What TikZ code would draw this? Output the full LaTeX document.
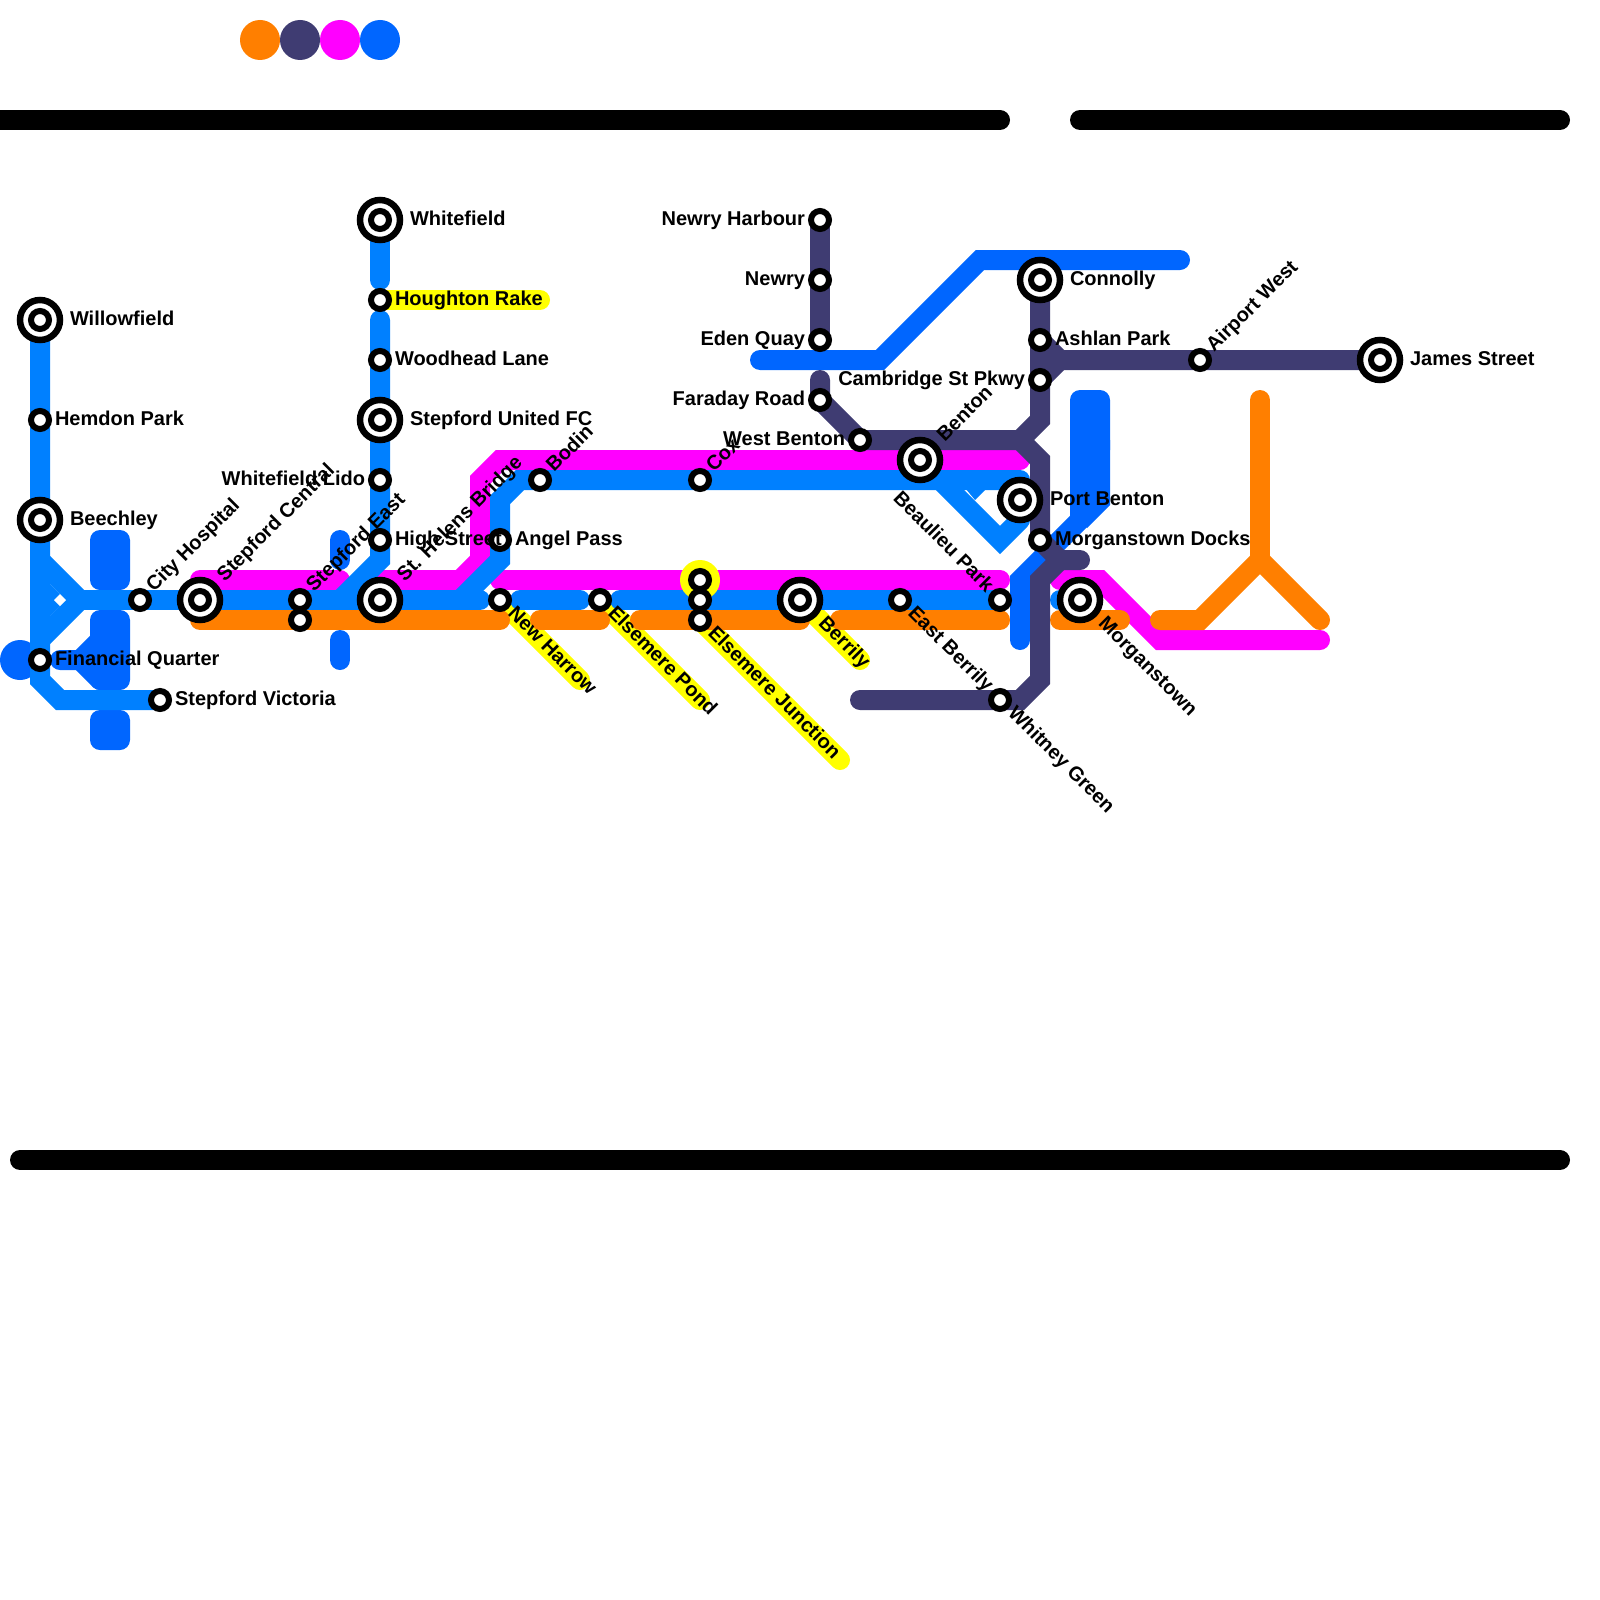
\documentclass[tikz,border=0pt]{standalone}
\usepackage{fontspec}
\setmainfont{Liberation Sans}
\definecolor{cor}{HTML}{FF7F00}
\definecolor{cnv}{HTML}{3F3C72}
\definecolor{cmg}{HTML}{FF00FF}
\definecolor{cdb}{HTML}{0066FF}
\definecolor{clb}{HTML}{0080FF}
\definecolor{cyl}{HTML}{FFFF00}
\tikzset{
  track/.style={line width=20pt,line cap=round,line join=miter,miter limit=10},
  ringst/.style={draw=black,fill=white,line width=6pt},
  lab/.style={inner sep=0pt,outer sep=0pt,font=\fontsize{20pt}{24pt}\selectfont\bfseries,text=black},
}
\newcommand\smallst[2]{\coordinate (#1) at (#2); \path[ringst] (#1) circle (9);}
\newcommand\bigstn[2]{\coordinate (#1) at (#2); \path[ringst,line width=6.5pt] (#1) circle (20); \path[ringst] (#1) circle (9);}
\newcommand\labE[3]{\node[lab,anchor=base west] (#1-l) at ([shift={(#2,5)}]#1) {#3};}
\newcommand\labW[3]{\node[lab,anchor=base east] (#1-l) at ([shift={(-#2,5)}]#1) {#3};}
\newcommand\labNE[3]{\node[lab,anchor=base west,rotate=45] (#1-l) at ([shift={({0.7071*(#2+5)},{-0.7071*(#2-5)})}]#1) {#3};}
\newcommand\labSE[3]{\node[lab,anchor=base west,rotate=-45] (#1-l) at ([shift={({0.7071*(#2-5)},{0.7071*(#2+5)})}]#1) {#3};}
\newcommand\labNW[3]{\node[lab,anchor=base east,rotate=-45] (#1-l) at ([shift={({-0.7071*(#2+5)},{-0.7071*(#2-5)})}]#1) {#3};}
\begin{document}
\begin{tikzpicture}[x=1pt,y=-1pt]
\clip (0,0) rectangle (1600,1600);
% legend
\fill[cor] (260,40) circle (20);
\fill[cnv] (300,40) circle (20);
\fill[cmg] (340,40) circle (20);
\fill[cdb] (380,40) circle (20);
% black bars
\draw[track,black] (-20,120) -- (1000,120);
\draw[track,black] (1080,120) -- (1560,120);
\draw[track,black] (20,1160) -- (1560,1160);
% yellow highlights
\draw[track,cyl] (380,300) -- (540,300);
\draw[track,cyl] (500,600) -- (580,680);
\draw[track,cyl] (600,600) -- (700,700);
\draw[track,cyl] (700,620) -- (840,760);
\draw[track,cyl] (800,600) -- (860,660);
% dark blue line
\fill[cdb] (20,660) circle (20);
\fill[cdb,rounded corners=10pt] (90,530) rectangle (130,590);
\fill[cdb,rounded corners=10pt] (90,610) rectangle (130,690);
\fill[cdb,rounded corners=10pt] (90,710) rectangle (130,750);
\draw[track,cdb] (60,660) -- (80,660) -- (100,640);
\draw[track,cdb] (80,660) -- (100,680);
\draw[track,cdb] (340,540) -- (340,560);
\draw[track,cdb] (340,640) -- (340,660);
\draw[track,cdb] (760,360) -- (880,360) -- (980,260) -- (1180,260);
\fill[cdb,rounded corners=10pt] (1070,390) rectangle (1110,460);
\fill[cdb] (1070,440) -- (1110,440) -- (1110,505) -- (1087,528) -- (1073,514) -- (1070,517) -- cycle;
\draw[track,cdb] (1020,640) -- (1020,580) -- (1080,520);
% magenta line
\draw[track,cmg] (200,580) -- (340,580);
\draw[track,cmg] (380,580) -- (460,580) -- (480,560) -- (480,480) -- (500,460) -- (1020,460);
\draw[track,cmg] (500,580) -- (1000,580);
\draw[track,cmg] (1060,580) -- (1100,580) -- (1160,640) -- (1320,640);
% light blue line
\draw[track,clb] (40,320) -- (40,680) -- (60,700) -- (160,700);
\fill[clb] (50,584) -- (66,600) -- (50,616) -- cycle;
\draw[track,clb] (40,560) -- (80,600) -- (40,640);
\fill[white] (60,594) -- (66,600) -- (60,606) -- (54,600) -- cycle;
\draw[track,clb] (80,600) -- (480,600);
\draw[track,clb] (380,220) -- (380,280);
\draw[track,clb] (380,320) -- (380,560) -- (340,600);
\draw[track,clb] (460,600) -- (500,560) -- (500,500) -- (520,480) -- (1020,480);
\draw[track,clb] (940,480) -- (1000,540) -- (1020,520);
\fill[clb] (965,488) -- (987,488) -- (975,500) -- cycle;
\draw[track,clb] (520,600) -- (580,600);
\draw[track,clb] (620,600) -- (1000,600);
\draw[track,clb] (1060,600) -- (1075,600);
% orange line
\draw[track,cor] (200,620) -- (500,620);
\draw[track,cor] (540,620) -- (600,620);
\draw[track,cor] (640,620) -- (800,620);
\draw[track,cor] (840,620) -- (1000,620);
\draw[track,cor] (1060,620) -- (1120,620);
\draw[track,cor] (1160,620) -- (1200,620) -- (1260,560) -- (1320,620);
\draw[track,cor] (1260,400) -- (1260,560);
% navy line
\draw[track,cnv] (820,220) -- (820,340);
\draw[track,cnv] (820,380) -- (820,400) -- (860,440) -- (1020,440) -- (1040,420) -- (1040,280);
\draw[track,cnv] (1020,440) -- (1040,460) -- (1040,540) -- (1060,560) -- (1080,560);
\draw[track,cnv] (1060,560) -- (1040,580) -- (1040,680) -- (1020,700) -- (860,700);
\draw[track,cnv] (1040,340) -- (1060,360) -- (1380,360);
\draw[track,cnv] (1060,360) -- (1040,380);
% yellow ring
\fill[cyl] (700,580) circle (20);
% stations
\bigstn{willowfield}{40,320}
\smallst{hemdon}{40,420}
\bigstn{beechley}{40,520}
\smallst{financial}{40,660}
\smallst{victoria}{160,700}
\smallst{cityh}{140,600}
\bigstn{stepcentral}{200,600}
\smallst{stepeast}{300,600}
\smallst{stepeastb}{300,620}
\bigstn{whitefield}{380,220}
\smallst{houghton}{380,300}
\smallst{woodhead}{380,360}
\bigstn{united}{380,420}
\smallst{lido}{380,480}
\smallst{highst}{380,540}
\bigstn{sthelens}{380,600}
\smallst{angel}{500,540}
\smallst{newharrow}{500,600}
\smallst{bodin}{540,480}
\smallst{pond}{600,600}
\smallst{cox}{700,480}
\smallst{elsa}{700,580}
\smallst{elsb}{700,600}
\smallst{junction}{700,620}
\bigstn{berrily}{800,600}
\smallst{eastb}{900,600}
\smallst{beaulieu}{1000,600}
\smallst{whitney}{1000,700}
\smallst{harbour}{820,220}
\smallst{newry}{820,280}
\smallst{eden}{820,340}
\smallst{faraday}{820,400}
\smallst{westb}{860,440}
\bigstn{benton}{920,460}
\bigstn{portb}{1020,500}
\bigstn{connolly}{1040,280}
\smallst{ashlan}{1040,340}
\smallst{cambridge}{1040,380}
\smallst{docks}{1040,540}
\bigstn{morgan}{1080,600}
\smallst{airport}{1200,360}
\bigstn{james}{1380,360}
% labels
\labE{willowfield}{30}{Willowfield}
\labE{hemdon}{15}{Hemdon Park}
\labE{beechley}{30}{Beechley}
\labE{financial}{15}{Financial Quarter}
\labE{victoria}{15}{Stepford Victoria}
\labNE{cityh}{15}{City Hospital}
\labNE{stepcentral}{30}{Stepford Central}
\labNE{stepeast}{15}{Stepford East}
\labE{whitefield}{30}{Whitefield}
\labE{houghton}{15}{Houghton Rake}
\labE{woodhead}{15}{Woodhead Lane}
\labE{united}{30}{Stepford United FC}
\labW{lido}{15}{Whitefield Lido}
\labE{highst}{15}{High Street}
\labNE{sthelens}{30}{St. Helens Bridge}
\labE{angel}{15}{Angel Pass}
\labSE{newharrow}{15}{New Harrow}
\labNE{bodin}{15}{Bodin}
\labSE{pond}{15}{Elsemere Pond}
\labNE{cox}{15}{Cox}
\labSE{junction}{15}{Elsemere Junction}
\labSE{berrily}{30}{Berrily}
\labSE{eastb}{15}{East Berrily}
\labNW{beaulieu}{15}{Beaulieu Park}
\labSE{whitney}{15}{Whitney Green}
\labW{harbour}{15}{Newry Harbour}
\labW{newry}{15}{Newry}
\labW{eden}{15}{Eden Quay}
\labW{faraday}{15}{Faraday Road}
\labW{westb}{15}{West Benton}
\labNE{benton}{30}{Benton}
\labE{portb}{30}{Port Benton}
\labE{connolly}{30}{Connolly}
\labE{ashlan}{15}{Ashlan Park}
\labW{cambridge}{15}{Cambridge St Pkwy}
\labE{docks}{15}{Morganstown Docks}
\labSE{morgan}{30}{Morganstown}
\labNE{airport}{15}{Airport West}
\labE{james}{30}{James Street}
\end{tikzpicture}
\end{document}
